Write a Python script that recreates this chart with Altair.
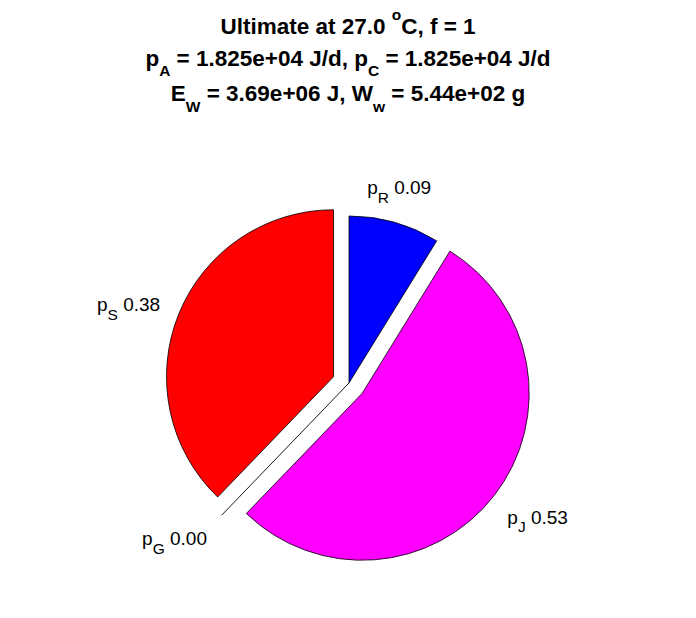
import math
import altair as alt
import pandas as pd

# ---------------- data ----------------
slice_names = ["R", "J", "G", "S"]
slice_fractions = [0.088, 0.534, 0.0, 0.378]
slice_colors = ["#0000ff", "#ff00ff", "#ffffff", "#ff0000"]
slice_explode = [0, 1, 1, 1]

temperature_C = 27.0
f_value = 1
p_A = 1.825e4
p_C = 1.825e4
E_W = 3.69e6
W_w = 5.44e2

# ---------------- layout / style ----------------
W, H = 660, 590          # chart size (px)
CX, CY = 341, 375        # pie centre (px, chart coords)
R = 167                  # pie radius (px)
EXPL = 0.1               # explode distance (fraction of R)
FONT = "Liberation Sans"

xs = alt.Scale(domain=[-CX / R, (W - CX) / R], range=[0, W], nice=False, zero=False)
ys = alt.Scale(domain=[-(H - CY) / R, CY / R], nice=False, zero=False)

def xd(px):
    return (px - CX) / R

def yd(py):
    return (CY - py) / R

REG = {" ": 278, "+": 584, ",": 278, ".": 278, "/": 278, "=": 584,
       "A": 667, "C": 722, "E": 667, "G": 778, "J": 500, "R": 722, "S": 667,
       "W": 944, "a": 556, "d": 556, "e": 556, "f": 278, "g": 556, "i": 222,
       "l": 222, "m": 833, "o": 556, "p": 556, "t": 278, "w": 722}
BOLD = {" ": 278, "+": 584, ",": 278, ".": 278, "/": 278, "=": 584,
        "A": 722, "C": 722, "E": 667, "G": 778, "J": 556, "R": 722, "S": 667,
        "U": 722, "W": 944, "a": 556, "d": 611, "e": 556, "f": 333, "g": 611,
        "i": 278, "l": 278, "m": 889, "o": 611, "p": 611, "t": 333, "w": 778}

def tw(s, size, bold):
    tbl = BOLD if bold else REG
    return sum(tbl.get(ch, 556) for ch in s) * size / 1000.0

def layout(segs, x0, base, F, fs_sub, sh_sub, fs_sup, sh_sup, bold):
    rows = []
    x = x0
    for txt, kind in segs:
        if kind == "sub":
            size, dy = fs_sub, sh_sub
        elif kind == "sup":
            size, dy = fs_sup, sh_sup
        else:
            size, dy = F, 0
        stripped = txt.lstrip(" ")
        lead = txt[: len(txt) - len(stripped)]
        xs_start = x + tw(lead, size, bold)
        rows.append({"x": xd(xs_start), "y": yd(base + dy), "t": stripped, "s": size})
        x += tw(txt, size, bold)
    return rows

def seg_width(segs, F, fs_sub, fs_sup, bold):
    w = 0
    for txt, kind in segs:
        size = fs_sub if kind == "sub" else fs_sup if kind == "sup" else F
        w += tw(txt, size, bold)
    return w

# ---------------- slices ----------------
rows = []
rule_rows = []
label_rows = []
cum = 0.0
LF, LSUB, LSH = 19, 15.5, 8.5
for name, frac, col, ex in zip(slice_names, slice_fractions, slice_colors, slice_explode):
    t0 = cum * 2 * math.pi
    t1 = (cum + frac) * 2 * math.pi
    mid = (t0 + t1) / 2
    sx, cy_up = math.sin(mid), math.cos(mid)
    ox, oy = EXPL * sx * ex, EXPL * cy_up * ex
    if frac > 0:
        rows.append({"cx": ox, "cy": oy, "t0": t0, "t1": t1, "color": col})
    else:
        rule_rows.append({"x1": 0.0, "y1": 0.0,
                          "x2": (1 + EXPL) * sx, "y2": (1 + EXPL) * cy_up})
    # label: anchor at 1.1 R from the (exploded) slice centre
    ax_d = ox + 1.1 * sx
    ay_d = oy + 1.1 * cy_up
    apx, apy = CX + ax_d * R, CY - ay_d * R
    segs = [("p", "m"), (name, "sub"), (" %.2f" % frac, "m")]
    wtot = seg_width(segs, LF, LSUB, LSUB, False)
    if sx > 0.5:
        x0 = apx
    elif sx < -0.5:
        x0 = apx - wtot - 3
    else:
        x0 = apx - wtot / 2
    if cy_up > 0.5:
        base = apy - 12
    elif cy_up < -0.5:
        base = apy + 18
    else:
        base = apy + 3
    label_rows += layout(segs, x0, base, LF, LSUB, LSH, LSUB, 0, False)
    cum += frac

df_arcs = pd.DataFrame(rows)
df_rule = pd.DataFrame(rule_rows)
df_labels = pd.DataFrame(label_rows)

# ---------------- title ----------------
TF, TSUB, TSH, TSUP, TSUPSH = 22.5, 15.5, 10.5, 15.5, -14
title_lines = [
    [("Ultimate at %.1f " % temperature_C, "m"), ("o", "sup"), ("C, f = %d" % f_value, "m")],
    [("p", "m"), ("A", "sub"), (" = %.3e J/d, p" % p_A, "m"), ("C", "sub"), (" = %.3e J/d" % p_C, "m")],
    [("E", "m"), ("W", "sub"), (" = %.2e J, W" % E_W, "m"), ("w", "sub"), (" = %.2e g" % W_w, "m")],
]
title_base = [26, 57.5, 93]
TITLE_CX = 340
title_rows = []
for segs, b in zip(title_lines, title_base):
    w = seg_width(segs, TF, TSUB, TSUP, True)
    title_rows += layout(segs, TITLE_CX - w / 2, b, TF, TSUB, TSH, TSUP, TSUPSH, True)
df_title = pd.DataFrame(title_rows)

# ---------------- chart ----------------
arcs = alt.Chart(df_arcs).mark_arc(stroke="black", strokeWidth=0.8).encode(
    x=alt.X("cx:Q", scale=xs, axis=None),
    y=alt.Y("cy:Q", scale=ys, axis=None),
    theta=alt.Theta("t0:Q", scale=None),
    theta2="t1:Q",
    color=alt.Color("color:N", scale=None),
    radius=alt.value(R),
)

rule = alt.Chart(df_rule).mark_rule(color="black", strokeWidth=0.9).encode(
    x=alt.X("x1:Q", scale=xs, axis=None),
    y=alt.Y("y1:Q", scale=ys, axis=None),
    x2="x2:Q",
    y2="y2:Q",
)

labels = alt.Chart(df_labels).mark_text(
    align="left", baseline="alphabetic", font=FONT, color="black"
).encode(
    x=alt.X("x:Q", scale=xs, axis=None),
    y=alt.Y("y:Q", scale=ys, axis=None),
    text="t:N",
    size=alt.Size("s:Q", scale=None),
)

title = alt.Chart(df_title).mark_text(
    align="left", baseline="alphabetic", font=FONT, fontWeight="bold", color="black"
).encode(
    x=alt.X("x:Q", scale=xs, axis=None),
    y=alt.Y("y:Q", scale=ys, axis=None),
    text="t:N",
    size=alt.Size("s:Q", scale=None),
)

chart = alt.layer(arcs, rule, labels, title).properties(
    width=W, height=H, autosize=alt.AutoSizeParams(type="none"), padding=0
).configure_view(stroke="transparent", strokeWidth=0).configure_axis(
    domain=False, ticks=False, labels=False, grid=False
)

chart.save("out.html", embed_options={"renderer": "svg", "actions": False})
